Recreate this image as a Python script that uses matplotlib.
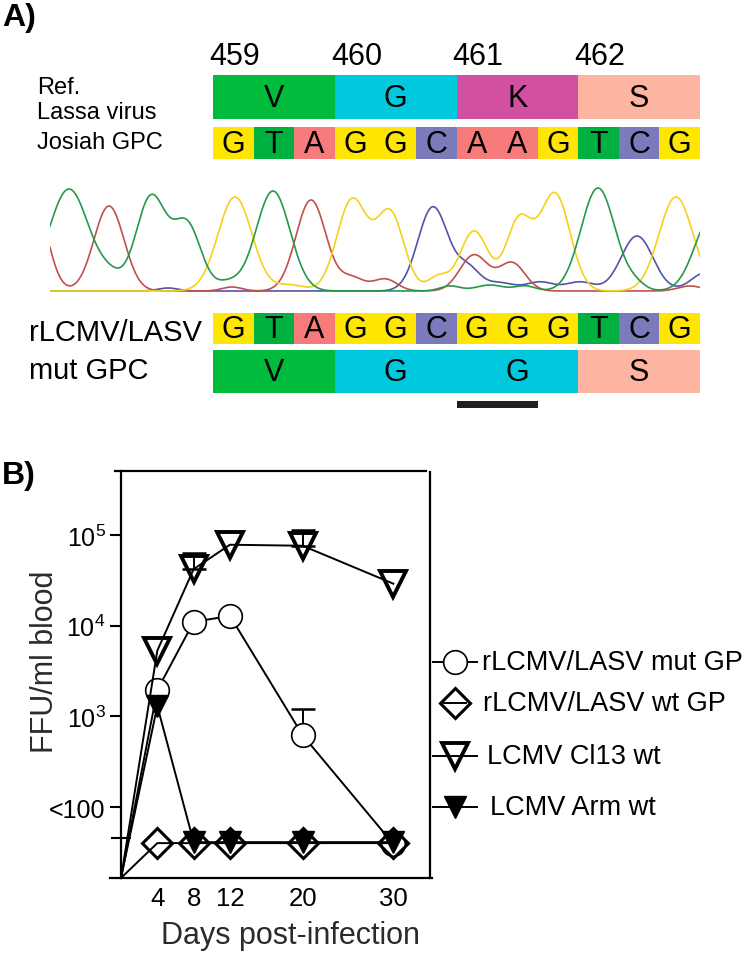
import numpy as np
import matplotlib
matplotlib.use('Agg')
import matplotlib.pyplot as plt
from matplotlib.patches import Rectangle
from matplotlib.ticker import FixedLocator, FixedFormatter, NullFormatter

plt.rcParams['font.family'] = ['Liberation Sans', 'DejaVu Sans']
plt.rcParams['mathtext.fontset'] = 'custom'
plt.rcParams['mathtext.rm'] = 'Liberation Sans'
plt.rcParams['mathtext.it'] = 'Liberation Sans:italic'
plt.rcParams['mathtext.bf'] = 'Liberation Sans:bold'

# ---- panel A data ----
positions = [459, 460, 461, 462]
ref_aa = ['V', 'G', 'K', 'S']
ref_nt = list('GTAGGCAAGTCG')
mut_nt = list('GTAGGCGGGTCG')
mut_aa = ['V', 'G', 'G', 'S']
mutated_nt = (6, 8)  # underlined bases (start, stop)

nt_colors = {'G': '#ffe600', 'T': '#00b140', 'A': '#f77b7b', 'C': '#7b7bbb'}
aa_colors = {'V': '#00bb3c', 'G': '#00c9de', 'K': '#d250a2', 'S': '#fdb4a0'}

# chromatogram peaks: (scan position, height, width)
green_peaks = [(19, 102, 20), (60, 12, 12), (101, 94, 15), (137, 66, 14), (178, 8, 12),
               (223, 100, 17), (400, 5, 10), (440, 6, 14), (475, 5, 10),
               (548, 103, 17), (585, 6, 10), (662, 75, 17)]
red_peaks = [(-15, 85, 13), (59, 85, 15), (182, 4, 10), (261, 91, 15), (302, 13, 12),
             (335, 12, 12), (424, 36, 14), (462, 28, 13), (640, 5, 12)]
yellow_peaks = [(185, 94, 17), (240, 6, 14), (302, 91, 15), (340, 78, 14), (388, 14, 10),
                (424, 60, 14), (469, 70, 13), (505, 97, 15), (626, 94, 17)]
blue_peaks = [(118, 3, 10), (383, 84, 15), (418, 22, 12), (450, 8, 14), (490, 9, 14),
              (530, 9, 14), (587, 55, 16), (655, 18, 14)]

# ---- panel B data ----
days = [0, 4, 8, 12, 20, 30]
floor = 16.5
mut_gp = [floor, 1950, 11000, 12800, 620, 39]
mut_gp_hi = [floor, 1950, 11000, 12800, 1200, 39]
wt_gp = [floor, 40, 40, 40, 40, 40]
cl13 = [floor, 5300, 42000, 78000, 76000, 29000]
cl13_hi = [floor, 5300, 63000, 78000, 114000, 29000]
arm = [floor, 1300, 41, 41, 41, 41]

y_ticks = [100, 1e3, 1e4, 1e5]
y_ticklabels = ['<100', r'$10^3$', r'$10^4$', r'$10^5$']
lod = 45.6

fig = plt.figure(figsize=(7.5, 9.54), dpi=100)

# overlay in pixel coordinates for panel A and the legend
axA = fig.add_axes([0, 0, 1, 1])
axA.set_xlim(0, 750)
axA.set_ylim(954, 0)
axA.axis('off')

seq_x0 = 213
codon_w = 487 / 4
nt_w = codon_w / 3


def aa_row(letters, y0, h):
    for i, a in enumerate(letters):
        axA.add_patch(Rectangle((seq_x0 + i * codon_w, y0), codon_w, h,
                                facecolor=aa_colors[a], lw=0))
        axA.text(seq_x0 + (i + 0.5) * codon_w, y0 + h / 2 + 1, a, ha='center',
                 va='center', fontsize=22)


def nt_row(letters, y0, h):
    for i, n in enumerate(letters):
        axA.add_patch(Rectangle((seq_x0 + i * nt_w, y0), nt_w, h,
                                facecolor=nt_colors[n], lw=0))
        axA.text(seq_x0 + (i + 0.5) * nt_w, y0 + h / 2 + 1, n, ha='center',
                 va='center', fontsize=22)


axA.text(2, 18, 'A)', fontsize=23, fontweight='bold', ha='left', va='center')
for i, p in enumerate(positions):
    axA.text(seq_x0 - 4 + i * codon_w, 57, str(p), fontsize=22, ha='left', va='center')

aa_row(ref_aa, 76, 44)
nt_row(ref_nt, 128, 32)
axA.text(37, 88, 'Ref.', fontsize=17, va='center')
axA.text(37, 113, 'Lassa virus', fontsize=17, va='center')
axA.text(37, 143, 'Josiah GPC', fontsize=17, va='center')

nt_row(mut_nt, 314, 31)
aa_row(mut_aa, 351, 43)
axA.text(29, 333, 'rLCMV/LASV', fontsize=21, va='center')
axA.text(29, 371, 'mut GPC', fontsize=21, va='center')
axA.add_patch(Rectangle((seq_x0 + mutated_nt[0] * nt_w, 402),
                        (mutated_nt[1] - mutated_nt[0]) * nt_w, 7,
                        facecolor='#231f20', lw=0))

axA.text(2, 476, 'B)', fontsize=23, fontweight='bold', ha='left', va='center')

# chromatogram
axC = fig.add_axes([50 / 750, (954 - 293) / 954, 650 / 750, 110 / 954])
axC.set_xlim(0, 650)
axC.set_ylim(-1, 109)
axC.axis('off')
scan = np.linspace(0, 650, 1301)


def trace(peaks):
    sig = np.zeros_like(scan)
    for c, h, w in peaks:
        sig += h * np.exp(-(scan - c) ** 2 / (2 * w ** 2))
    return sig


for peaks, col in [(blue_peaks, '#5353a8'), (red_peaks, '#c0504e'),
                   (yellow_peaks, '#f4d21a'), (green_peaks, '#25994a')]:
    axC.plot(scan, trace(peaks), color=col, lw=1.2)

# ---- panel B ----
axB = fig.add_axes([121 / 750, 75 / 954, 309 / 750, 407 / 954])
axB.set_yscale('log')
axB.set_xlim(0, 34.03)
axB.set_ylim(floor, 5.07e5)

styles = {
    'mut': dict(marker='o', ms=17, mfc='white', mec='k', mew=1.2),
    'wt': dict(marker='D', ms=15, mfc='none', mec='k', mew=2.2),
    'cl13': dict(marker='v', ms=19, mfc='none', mec='k', mew=2.8),
    'arm': dict(marker='v', ms=15.5, mfc='k', mec='k', mew=1.0),
}
series = [('mut', mut_gp, mut_gp_hi, 'rLCMV/LASV mut GP'),
          ('wt', wt_gp, None, 'rLCMV/LASV wt GP'),
          ('cl13', cl13, cl13_hi, 'LCMV Cl13 wt'),
          ('arm', arm, None, 'LCMV Arm wt')]

for z, (key, vals, hi, label) in enumerate(series):
    if hi is not None:
        up = np.array(hi) - np.array(vals)
        mask = up > 0
        axB.errorbar(np.array(days)[mask], np.array(vals)[mask],
                     yerr=[np.zeros(mask.sum()), up[mask]], fmt='none', ecolor='k',
                     elinewidth=1.4, capsize=8.5, capthick=1.8, zorder=2 + z)
    axB.plot(days, vals, color='k', lw=1.4, markevery=list(range(1, len(days))),
             zorder=3 + z, clip_on=False, **styles[key])

axB.yaxis.set_major_locator(FixedLocator(y_ticks))
axB.yaxis.set_major_formatter(FixedFormatter(y_ticklabels))
axB.yaxis.set_minor_locator(FixedLocator([lod]))
axB.yaxis.set_minor_formatter(NullFormatter())
axB.tick_params(axis='y', which='major', direction='out', length=8, width=1.5,
                labelsize=18, pad=3)
axB.tick_params(axis='y', which='minor', direction='inout', length=14.5, width=1.5)
axB.set_xticks(days[1:])
axB.set_xticklabels([str(d) for d in days[1:]])
axB.tick_params(axis='x', length=0, labelsize=18.5, pad=6)

for s in axB.spines.values():
    s.set_linewidth(1.6)
axB.spines['bottom'].set_bounds(-1.2, 34.2)
axB.spines['top'].set_bounds(-0.66, 33.6)
axB.spines['right'].set_bounds(floor, 4.96e5)

axB.set_ylabel('FFU/ml blood', fontsize=22, color='#2b2b2b')
axB.yaxis.set_label_coords(-0.199, 0.533)
axB.set_xlabel('Days post-infection', fontsize=22, color='#2b2b2b')
axB.xaxis.set_label_coords(0.55, -0.103)

# legend beside the axes
legend_y = [663, 704, 757, 808]
legend_text_x = [482, 483, 487, 490]
for (key, vals, hi, label), ly, tx in zip(series, legend_y, legend_text_x):
    if key == 'wt':
        axA.plot([455], [ly], color='k', lw=1.4, **styles[key])
        axA.plot([444, 466], [ly, ly], color='k', lw=1.4)
    else:
        axA.plot([433, 477], [ly, ly], color='k', lw=1.4, zorder=3)
        axA.plot([455], [ly], color='k', lw=0, zorder=4, **styles[key])
    axA.text(tx, ly, label, fontsize=19.5, ha='left', va='center')

fig.savefig('out.png', dpi=100)
